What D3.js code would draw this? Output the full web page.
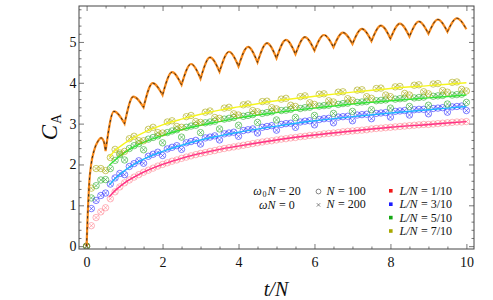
<!DOCTYPE html>
<html>
<head>
<meta charset="utf-8">
<script src="https://cdn.jsdelivr.net/npm/d3@7"></script>
<style>
  body { margin: 0; background: #fff; }
  svg text { font-family: "Liberation Serif", "Times New Roman", serif; fill: #111; }
  .axis line { stroke: #555; stroke-width: 0.8; }
  .axis text { font-size: 14px; }
</style>
</head>
<body>
<svg id="chart" width="493" height="300"></svg>
<script>
// t/N sample points of the lattice data (N = 100 circles, N = 200 crosses)
var sampleT = [0, 0.125, 0.25, 0.375, 0.5, 0.625, 0.75, 0.875, 1, 1.125, 1.25, 1.375, 1.5, 1.625, 1.75, 1.875,
  2, 2.125, 2.25, 2.375, 2.5, 2.625, 2.75, 2.875, 3, 3.125, 3.25, 3.375, 3.5, 3.625, 3.75, 3.875,
  4, 4.125, 4.25, 4.375, 4.5, 4.625, 4.75, 4.875, 5, 5.125, 5.25, 5.375, 5.5, 5.625, 5.75, 5.875,
  6, 6.125, 6.25, 6.375, 6.5, 6.625, 6.75, 6.875, 7, 7.125, 7.25, 7.375, 7.5, 7.625, 7.75, 7.875,
  8, 8.125, 8.25, 8.375, 8.5, 8.625, 8.75, 8.875, 9, 9.125, 9.25, 9.375, 9.5, 9.625, 9.75, 9.875, 10];

var redPoints = [0, 0.50, 0.70, 0.84, 0.94, 1.16, 1.33, 1.45, 1.55, 1.62, 1.69, 1.75, 1.81, 1.86, 1.91, 1.96,
  2.00, 2.04, 2.08, 2.11, 2.15, 2.18, 2.21, 2.24, 2.27, 2.29, 2.32, 2.34, 2.37, 2.39, 2.41, 2.43,
  2.45, 2.47, 2.49, 2.51, 2.53, 2.55, 2.57, 2.58, 2.60, 2.62, 2.63, 2.65, 2.66, 2.68, 2.69, 2.71,
  2.72, 2.73, 2.75, 2.76, 2.77, 2.78, 2.80, 2.81, 2.82, 2.83, 2.84, 2.85, 2.87, 2.88, 2.89, 2.90,
  2.91, 2.92, 2.93, 2.94, 2.95, 2.96, 2.97, 2.98, 2.98, 2.99, 3.00, 3.01, 3.02, 3.03, 3.04, 3.04, 3.05];

var bluePoints = [0, 0.92, 1.12, 1.24, 1.30, 1.52, 1.67, 1.78, 1.75, 1.95, 2.02, 2.09, 2.03, 2.20, 2.25, 2.30,
  2.22, 2.38, 2.42, 2.46, 2.37, 2.53, 2.56, 2.59, 2.50, 2.65, 2.67, 2.70, 2.60, 2.75, 2.77, 2.79,
  2.69, 2.83, 2.85, 2.87, 2.77, 2.91, 2.93, 2.95, 2.84, 2.98, 3.00, 3.01, 2.91, 3.04, 3.06, 3.07,
  2.97, 3.10, 3.12, 3.13, 3.02, 3.16, 3.17, 3.18, 3.07, 3.21, 3.22, 3.23, 3.12, 3.25, 3.26, 3.27,
  3.16, 3.30, 3.31, 3.32, 3.21, 3.34, 3.35, 3.35, 3.24, 3.37, 3.38, 3.39, 3.28, 3.41, 3.42, 3.43, 3.32];

var greenPoints = [0, 1.18, 1.48, 1.62, 1.63, 1.90, 2.10, 2.24, 2.11, 2.39, 2.46, 2.51, 2.36, 2.62, 2.66, 2.70,
  2.53, 2.78, 2.82, 2.85, 2.67, 2.91, 2.94, 2.96, 2.78, 3.02, 3.04, 3.06, 2.87, 3.11, 3.13, 3.15,
  2.96, 3.18, 3.20, 3.22, 3.03, 3.25, 3.27, 3.29, 3.09, 3.32, 3.33, 3.35, 3.15, 3.37, 3.39, 3.40,
  3.20, 3.43, 3.44, 3.45, 3.25, 3.47, 3.49, 3.50, 3.30, 3.52, 3.53, 3.54, 3.34, 3.56, 3.57, 3.58,
  3.38, 3.60, 3.61, 3.62, 3.42, 3.63, 3.64, 3.65, 3.45, 3.67, 3.68, 3.69, 3.48, 3.70, 3.71, 3.72, 3.52];

var yellowPoints = [0, 1.42, 1.90, 1.90, 1.85, 2.17, 2.37, 2.28, 2.32, 2.63, 2.69, 2.58, 2.58, 2.86, 2.91, 2.78,
  2.77, 3.04, 3.07, 2.93, 2.91, 3.17, 3.20, 3.05, 3.03, 3.28, 3.31, 3.15, 3.13, 3.38, 3.40, 3.24,
  3.21, 3.46, 3.48, 3.32, 3.29, 3.54, 3.55, 3.39, 3.36, 3.60, 3.62, 3.45, 3.42, 3.66, 3.68, 3.51,
  3.47, 3.72, 3.73, 3.56, 3.53, 3.77, 3.78, 3.61, 3.57, 3.82, 3.83, 3.66, 3.62, 3.86, 3.87, 3.70,
  3.66, 3.90, 3.91, 3.74, 3.70, 3.94, 3.95, 3.78, 3.73, 3.97, 3.98, 3.81, 3.77, 4.01, 4.02, 3.84, 3.80];

// continuum curves
var lineT = [0.6, 0.75, 1, 1.25, 1.5, 2, 2.5, 3, 3.5, 4, 5, 6, 7, 8, 9, 10];
var redLine = [1.21, 1.36, 1.55, 1.69, 1.81, 2.00, 2.15, 2.27, 2.37, 2.45, 2.60, 2.72, 2.82, 2.91, 2.98, 3.05];
var blueLine = [1.50, 1.65, 1.85, 2.00, 2.13, 2.32, 2.47, 2.60, 2.70, 2.79, 2.94, 3.07, 3.17, 3.26, 3.34, 3.42];
var greenLine = [1.98, 2.11, 2.29, 2.43, 2.54, 2.71, 2.85, 2.96, 3.05, 3.14, 3.27, 3.38, 3.48, 3.56, 3.63, 3.70];
var yellowLine = [2.19, 2.34, 2.52, 2.66, 2.78, 2.97, 3.11, 3.23, 3.33, 3.41, 3.56, 3.67, 3.77, 3.86, 3.93, 4.00];

// the revival curve (orange, dashed black on top)
var orangeT = [0, 0.02, 0.04, 0.07, 0.12, 0.2, 0.3, 0.38, 0.45, 0.5, 0.72, 1, 1.23, 1.5, 1.74, 2,
  2.25, 2.5, 2.75, 3, 3.25, 3.5, 3.75, 4, 4.25, 4.5, 4.75, 5, 5.25, 5.5, 5.75, 6,
  6.25, 6.5, 6.75, 7, 7.25, 7.5, 7.75, 8, 8.25, 8.5, 8.75, 9, 9.25, 9.5, 9.75, 10];
var orangeC = [0, 0.55, 1.0, 1.55, 2.0, 2.35, 2.57, 2.65, 2.57, 2.33, 3.30, 3.00, 3.66, 3.40, 3.99, 3.70,
  4.26, 3.95, 4.46, 4.10, 4.62, 4.27, 4.76, 4.40, 4.88, 4.50, 4.97, 4.60, 5.05, 4.70, 5.12, 4.79,
  5.17, 4.87, 5.23, 4.95, 5.32, 5.02, 5.40, 5.08, 5.45, 5.13, 5.50, 5.20, 5.55, 5.25, 5.58, 5.31];

var seriesNames = ['1/10', '3/10', '5/10', '7/10'];
var markerColors = ['#ff5c6c', '#2626ff', '#22a822', '#a6a600'];
var lineColors = ['#ff2f86', '#1fb6ff', '#35e635', '#f5f51f'];
var legendColors = ['#f01818', '#1c1cff', '#14a814', '#a8a800'];

var xMajor = [0, 2, 4, 6, 8, 10];
var xMinor = [0.5, 1, 1.5, 2.5, 3, 3.5, 4.5, 5, 5.5, 6.5, 7, 7.5, 8.5, 9, 9.5];
var yMajor = [0, 1, 2, 3, 4, 5];
var yMinor = [0.2, 0.4, 0.6, 0.8, 1.2, 1.4, 1.6, 1.8, 2.2, 2.4, 2.6, 2.8, 3.2, 3.4, 3.6, 3.8,
  4.2, 4.4, 4.6, 4.8, 5.2, 5.4, 5.6, 5.8];

var serif = '"Liberation Serif", "Times New Roman", serif';
var svg = d3.select('#chart');
var x = d3.scaleLinear().domain([-0.2, 10.2]).range([79, 474]);
var y = d3.scaleLinear().domain([-0.07, 5.88]).range([249, 6]);

function addAxis(gen, tx, ty) {
  var g = svg.append('g').attr('class', 'axis')
    .attr('transform', 'translate(' + tx + ',' + ty + ')')
    .call(gen)
    .attr('font-family', serif)
    .attr('font-size', 14);
  g.select('.domain').remove();
  return g;
}

// frame ticks point inwards on all four sides
addAxis(d3.axisBottom(x).tickValues(xMinor).tickSizeInner(-2.5).tickSizeOuter(0).tickFormat(''), 0, 249);
addAxis(d3.axisBottom(x).tickValues(xMajor).tickSizeInner(-5).tickSizeOuter(0).tickPadding(8).tickFormat(d3.format('d')), 0, 249);
addAxis(d3.axisTop(x).tickValues(xMinor).tickSizeInner(-2.5).tickSizeOuter(0).tickFormat(''), 0, 6);
addAxis(d3.axisTop(x).tickValues(xMajor).tickSizeInner(-5).tickSizeOuter(0).tickFormat(''), 0, 6);
addAxis(d3.axisLeft(y).tickValues(yMinor).tickSizeInner(-2.5).tickSizeOuter(0).tickFormat(''), 79, 0);
addAxis(d3.axisLeft(y).tickValues(yMajor).tickSizeInner(-5).tickSizeOuter(0).tickPadding(2.5).tickFormat(d3.format('d')), 79, 0);
addAxis(d3.axisRight(y).tickValues(yMinor).tickSizeInner(-2.5).tickSizeOuter(0).tickFormat(''), 474, 0);
addAxis(d3.axisRight(y).tickValues(yMajor).tickSizeInner(-5).tickSizeOuter(0).tickFormat(''), 474, 0);

svg.append('defs').append('clipPath').attr('id', 'plot-clip')
  .append('rect').attr('x', 79).attr('y', 6).attr('width', 395).attr('height', 243);

var plot = svg.append('g').attr('clip-path', 'url(#plot-clip)');

var smoothLine = d3.line()
  .x(function(d) { return x(d[0]); })
  .y(function(d) { return y(d[1]); })
  .curve(d3.curveMonotoneX);

var allPoints = [redPoints, bluePoints, greenPoints, yellowPoints];
var allLines = [redLine, blueLine, greenLine, yellowLine];

allPoints.forEach(function(vals, s) {
  var pts = sampleT.map(function(t, i) { return [t, vals[i]]; });
  var g = plot.append('g').attr('stroke', markerColors[s]).attr('fill', 'none');

  g.selectAll('circle').data(pts).enter().append('circle')
    .attr('cx', function(d) { return x(d[0]); })
    .attr('cy', function(d) { return y(d[1]); })
    .attr('r', 3.2)
    .attr('stroke-width', 0.9)
    .attr('stroke-opacity', s === 0 ? 0.5 : 0.65);

  g.selectAll('path.cross').data(pts).enter().append('path')
    .attr('class', 'cross')
    .attr('d', function(d) {
      var cx = x(d[0]), cy = y(d[1]), r = 1.9;
      return 'M' + (cx - r) + ',' + (cy - r) + 'L' + (cx + r) + ',' + (cy + r) +
        'M' + (cx - r) + ',' + (cy + r) + 'L' + (cx + r) + ',' + (cy - r);
    })
    .attr('stroke-width', 0.8)
    .attr('stroke-opacity', s === 0 ? 0.6 : 0.75);

  plot.append('path')
    .datum(lineT.map(function(t, i) { return [t, allLines[s][i]]; }))
    .attr('d', smoothLine)
    .attr('fill', 'none')
    .attr('stroke', lineColors[s])
    .attr('stroke-width', 1.4);
});

// orange curve: smooth arches joined at sharp dips
var orangePts = orangeT.map(function(t, i) { return [t, orangeC[i]]; });
var arches = [];
var current = [orangePts[0]];
for (var i = 1; i < orangePts.length; i++) {
  current.push(orangePts[i]);
  var isDip = i < orangePts.length - 1 &&
    orangePts[i][1] < orangePts[i - 1][1] && orangePts[i][1] < orangePts[i + 1][1];
  if (isDip) {
    arches.push(current);
    current = [orangePts[i]];
  }
}
arches.push(current);

var orangeD = arches.map(function(a, k) {
  var s = smoothLine(a);
  return k === 0 ? s : s.replace(/^M/, 'L');
}).join('');

plot.append('path').attr('d', orangeD)
  .attr('fill', 'none').attr('stroke', '#f7891a').attr('stroke-width', 2.2);
plot.append('path').attr('d', orangeD)
  .attr('fill', 'none').attr('stroke', '#222').attr('stroke-width', 0.9)
  .attr('stroke-dasharray', '2.5,3');

// frame
svg.append('rect')
  .attr('x', 79).attr('y', 6).attr('width', 395).attr('height', 243)
  .attr('fill', 'none').attr('stroke', '#444').attr('stroke-width', 1);

// a label made of separate runs (italic letters, upright numbers, subscripts)
function runs(parent, x0, y0, parts, anchor, size) {
  var g = parent.append('g');
  var cx = 0;
  parts.forEach(function(p) {
    cx += p.gap || 0;
    var t = g.append('text')
      .attr('x', cx).attr('y', p.dy || 0)
      .style('font-size', (p.size || size) + 'px')
      .style('font-style', p.italic ? 'italic' : 'normal')
      .text(p.text);
    cx += t.node().getComputedTextLength();
  });
  var shift = anchor === 'middle' ? -cx / 2 : 0;
  g.attr('transform', 'translate(' + (x0 + shift) + ',' + y0 + ')');
  return g;
}

// axis labels
var yLab = svg.append('g').attr('transform', 'translate(57,127) rotate(-90)');
runs(yLab, 0, 0, [
  { text: 'C', italic: true },
  { text: 'A', size: 14, dy: 4, gap: 1 }
], 'middle', 23);

svg.append('text')
  .attr('x', 276).attr('y', 296)
  .attr('text-anchor', 'middle')
  .style('font-size', '20px').style('font-style', 'italic')
  .text('t/N');

// legend
var legend = svg.append('g');
var fs = 12;
var rowStep = 13.4;
var row0 = 195;

runs(legend, 277, row0, [
  { text: 'ω', italic: true },
  { text: '0', size: 8, dy: 1.8, gap: 0.8 },
  { text: 'N', italic: true, gap: 0.8 },
  { text: '= 20', gap: 3.5 }
], 'middle', fs);

runs(legend, 277, row0 + rowStep + 1, [
  { text: 'ωN', italic: true },
  { text: '= 0', gap: 3.5 }
], 'middle', fs);

var sizeLabels = ['100', '200'];
sizeLabels.forEach(function(n, k) {
  var ty = row0 + k * rowStep;
  if (k === 0) {
    legend.append('circle').attr('cx', 318.5).attr('cy', ty - 3.5).attr('r', 2.4)
      .attr('fill', 'none').attr('stroke', '#666').attr('stroke-width', 0.8);
  } else {
    legend.append('path')
      .attr('d', 'M316.8,' + (ty - 5.2) + 'l3.4,3.4M316.8,' + (ty - 1.8) + 'l3.4,-3.4')
      .attr('stroke', '#666').attr('stroke-width', 0.8);
  }
  runs(legend, 326.5, ty, [
    { text: 'N', italic: true },
    { text: '= ' + n, gap: 3.5 }
  ], 'start', fs);
});

seriesNames.forEach(function(name, k) {
  var ty = row0 + k * rowStep;
  legend.append('rect').attr('x', 389).attr('y', ty - 6).attr('width', 3.6).attr('height', 3.6)
    .attr('fill', legendColors[k]);
  runs(legend, 399.5, ty, [
    { text: 'L/N', italic: true },
    { text: '= ' + name, gap: 3.5 }
  ], 'start', fs);
});
</script>
</body>
</html>
